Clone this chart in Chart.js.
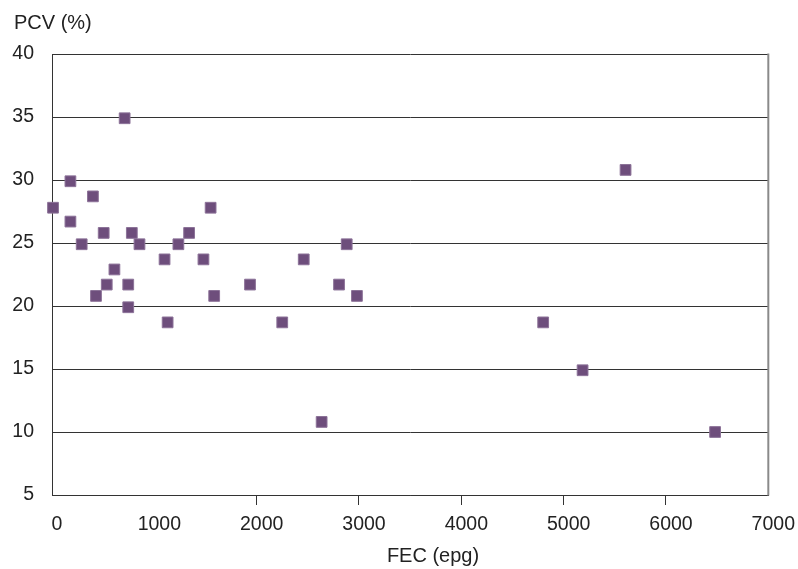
<!DOCTYPE html>
<html>
<head>
<meta charset="utf-8">
<script src="https://cdn.jsdelivr.net/npm/chart.js@4/dist/chart.umd.min.js"></script>
<style>
  html, body { margin: 0; padding: 0; background: #ffffff; }
  #wrap { width: 798px; height: 569px; }
</style>
</head>
<body>
<div id="wrap"><canvas id="c" width="798" height="569"></canvas></div>
<script>
const fecValues = [10, 180, 180, 290, 400, 430, 505, 535, 610, 710, 745, 745, 780, 855, 1100, 1130, 1235, 1340, 1480, 1550, 1585, 1935, 2250, 2460, 2635, 2805, 2880, 2980, 4800, 5185, 5605, 6480];
const pcvValues = [27.8, 29.9, 26.7, 24.9, 28.7, 20.8, 25.8, 21.7, 22.9, 34.9, 21.7, 19.9, 25.8, 24.9, 23.7, 18.7, 24.9, 25.8, 23.7, 27.8, 20.8, 21.7, 18.7, 23.7, 10.8, 21.7, 24.9, 20.8, 18.7, 14.9, 30.8, 10.0];
const xTickValues = [0, 1000, 2000, 3000, 4000, 5000, 6000, 7000];
const xTickMarks = [2000, 3000, 4000, 5000, 6000];
const yTickValues = [5, 10, 15, 20, 25, 30, 35, 40];
const xTitle = 'FEC (epg)';
const yTitle = 'PCV (%)';

const points = fecValues.map((x, i) => ({ x: x, y: pcvValues[i] }));
const FONT = '"Liberation Sans", Arial, sans-serif';
const TEXT = '#222222';

const decor = {
  id: 'decor',
  afterDraw(chart) {
    const ctx = chart.ctx;
    const a = chart.chartArea;
    ctx.save();
    ctx.strokeStyle = '#8a8a8a';
    ctx.lineWidth = 2;
    ctx.beginPath();
    ctx.moveTo(a.right, a.top - 0.5);
    ctx.lineTo(a.right, a.bottom + 0.5);
    ctx.stroke();
    ctx.fillStyle = TEXT;
    ctx.font = '20px ' + FONT;
    ctx.textBaseline = 'alphabetic';
    ctx.textAlign = 'left';
    ctx.fillText(yTitle, 14, 29);
    ctx.textAlign = 'center';
    ctx.fillText(xTitle, 433, 562);
    ctx.restore();
  }
};

new Chart(document.getElementById('c'), {
  type: 'scatter',
  data: {
    datasets: [{
      data: points,
      pointStyle: 'rect',
      pointRadius: 7.6,
      pointHoverRadius: 7.6,
      backgroundColor: '#6e4e7c',
      borderColor: '#8c7298',
      borderWidth: 1,
      clip: false
    }]
  },
  options: {
    responsive: false,
    animation: false,
    events: [],
    layout: { padding: { top: 54, right: 29, left: 0, bottom: 0 } },
    plugins: { legend: { display: false }, tooltip: { enabled: false }, title: { display: false } },
    scales: {
      x: {
        type: 'linear',
        min: 0, max: 7000,
        afterBuildTicks(scale) { scale.ticks = xTickValues.map(v => ({ value: v })); },
        afterFit(scale) { scale.height = 74; },
        ticks: {
          color: TEXT,
          font: { family: FONT, size: 19.5 },
          padding: 8,
          labelOffset: 5,
          maxRotation: 0,
          autoSkip: false,
          callback: (v) => String(v)
        },
        grid: {
          drawOnChartArea: false,
          drawTicks: true,
          tickLength: 10,
          tickColor: (c) => (c.tick && xTickMarks.includes(c.tick.value)) ? '#333333' : 'rgba(0,0,0,0)',
          lineWidth: 1
        },
        border: { display: true, color: '#333333', width: 1 }
      },
      y: {
        type: 'linear',
        min: 5, max: 40,
        afterBuildTicks(scale) { scale.ticks = yTickValues.map(v => ({ value: v })); },
        afterFit(scale) { scale.width = 52; },
        ticks: {
          color: TEXT,
          font: { family: FONT, size: 19.5 },
          padding: 18,
          callback: (v) => String(v)
        },
        grid: {
          drawOnChartArea: true,
          drawTicks: false,
          color: '#333333',
          lineWidth: 1
        },
        border: { display: true, color: '#333333', width: 1 }
      }
    }
  },
  plugins: [decor]
});
</script>
</body>
</html>
